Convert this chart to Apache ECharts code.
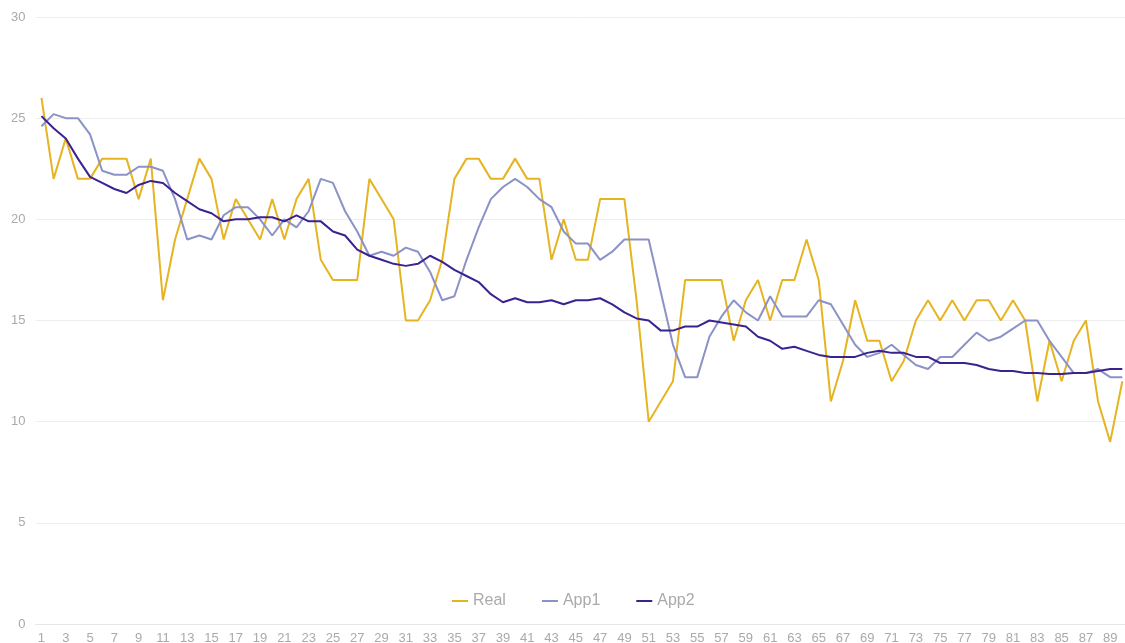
<!DOCTYPE html>
<html>
<head>
<meta charset="utf-8">
<script src="https://cdn.jsdelivr.net/npm/echarts@6/dist/echarts.min.js"></script>
<style>
  html, body { margin: 0; padding: 0; background: #fff; }
  #chart { width: 1125px; height: 643px; }
</style>
</head>
<body>
<div id="chart"></div>
<script>
// Sample index 1..90
const categories = Array.from({ length: 90 }, (_, i) => String(i + 1));

const seriesNames = ['Real', 'App1', 'App2'];

const realValues = [
  26, 22, 24, 22, 22, 23, 23, 23, 21, 23,
  16, 19, 21, 23, 22, 19, 21, 20, 19, 21,
  19, 21, 22, 18, 17, 17, 17, 22, 21, 20,
  15, 15, 16, 18, 22, 23, 23, 22, 22, 23,
  22, 22, 18, 20, 18, 18, 21, 21, 21, 16,
  10, 11, 12, 17, 17, 17, 17, 14, 16, 17,
  15, 17, 17, 19, 17, 11, 13, 16, 14, 14,
  12, 13, 15, 16, 15, 16, 15, 16, 16, 15,
  16, 15, 11, 14, 12, 14, 15, 11, 9, 12
];

const app1Values = [
  24.6, 25.2, 25, 25, 24.2, 22.4, 22.2, 22.2, 22.6, 22.6,
  22.4, 21, 19, 19.2, 19, 20.2, 20.6, 20.6, 20, 19.2,
  20, 19.6, 20.4, 22, 21.8, 20.4, 19.4, 18.2, 18.4, 18.2,
  18.6, 18.4, 17.4, 16, 16.2, 18, 19.6, 21, 21.6, 22,
  21.6, 21, 20.6, 19.4, 18.8, 18.8, 18, 18.4, 19, 19,
  19, 16.4, 13.8, 12.2, 12.2, 14.2, 15.2, 16, 15.4, 15,
  16.2, 15.2, 15.2, 15.2, 16, 15.8, 14.8, 13.8, 13.2, 13.4,
  13.8, 13.3, 12.8, 12.6, 13.2, 13.2, 13.8, 14.4, 14, 14.2,
  14.6, 15, 15, 14, 13.2, 12.4, 12.4, 12.6, 12.2, 12.2
];

const app2Values = [
  25.1, 24.5, 24, 23, 22.1, 21.8, 21.5, 21.3, 21.7, 21.9,
  21.8, 21.3, 20.9, 20.5, 20.3, 19.9, 20, 20, 20.1, 20.1,
  19.9, 20.2, 19.9, 19.9, 19.4, 19.2, 18.5, 18.2, 18, 17.8,
  17.7, 17.8, 18.2, 17.9, 17.5, 17.2, 16.9, 16.3, 15.9, 16.1,
  15.9, 15.9, 16, 15.8, 16, 16, 16.1, 15.8, 15.4, 15.1,
  15, 14.5, 14.5, 14.7, 14.7, 15, 14.9, 14.8, 14.7, 14.2,
  14, 13.6, 13.7, 13.5, 13.3, 13.2, 13.2, 13.2, 13.4, 13.5,
  13.4, 13.4, 13.2, 13.2, 12.9, 12.9, 12.9, 12.8, 12.6, 12.5,
  12.5, 12.4, 12.4, 12.35, 12.35, 12.4, 12.4, 12.5, 12.6, 12.6
];

const yTicks = { min: 0, max: 30, interval: 5 };

const colors = ['#e6b422', '#8b92c6', '#3b2291'];
const labelColor = '#aaaaaa';
const fontFamily = '"Liberation Sans", Arial, Helvetica, sans-serif';

const chart = echarts.init(document.getElementById('chart'), null, { renderer: 'canvas' });

chart.setOption({
  backgroundColor: '#ffffff',
  animation: false,
  color: colors,
  // the plot runs a few pixels past the right edge of the canvas
  grid: {
    left: 35.4, top: 17, width: 1093, height: 607,
    containLabel: false, outerBoundsMode: 'none'
  },
  legend: {
    data: seriesNames,
    left: 452,
    top: 593,
    padding: 0,
    itemWidth: 16,
    itemHeight: 2,
    itemGap: 36,
    icon: 'rect',
    textStyle: { color: labelColor, fontSize: 16, fontFamily: fontFamily }
  },
  xAxis: {
    type: 'category',
    data: categories,
    boundaryGap: true,
    axisLine: { show: true, lineStyle: { color: '#e6e6e6', width: 1 } },
    axisTick: { show: false },
    axisLabel: { color: labelColor, fontSize: 13, fontFamily: fontFamily, margin: 8, interval: 1 },
    splitLine: { show: false }
  },
  yAxis: {
    type: 'value',
    min: yTicks.min,
    max: yTicks.max,
    interval: yTicks.interval,
    axisLine: { show: false },
    axisTick: { show: false },
    axisLabel: { color: labelColor, fontSize: 13, fontFamily: fontFamily, margin: 10 },
    splitLine: { show: true, lineStyle: { color: '#eeeeee', width: 1 } }
  },
  series: [
    { name: seriesNames[0], type: 'line', data: realValues, symbol: 'none', lineStyle: { width: 2 } },
    { name: seriesNames[1], type: 'line', data: app1Values, symbol: 'none', lineStyle: { width: 2 } },
    { name: seriesNames[2], type: 'line', data: app2Values, symbol: 'none', lineStyle: { width: 2 } }
  ]
});
</script>
</body>
</html>
